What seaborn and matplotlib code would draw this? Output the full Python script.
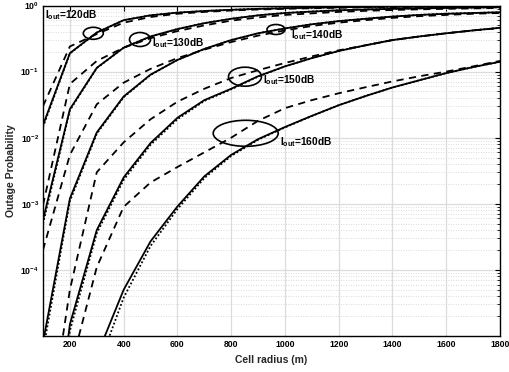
import matplotlib
matplotlib.use("Agg")
import matplotlib.pyplot as plt
import seaborn as sns
import numpy as np
from matplotlib.patches import Ellipse
from matplotlib.ticker import FixedLocator, NullFormatter

# ---------------- data ----------------
radius = [100, 200, 300, 400, 500, 600, 700, 800, 900, 1000,
          1100, 1200, 1300, 1400, 1500, 1600, 1700, 1800]

solid_120 = [0.0155, 0.19, 0.39, 0.60, 0.71, 0.78, 0.825, 0.86, 0.89, 0.91,
             0.925, 0.94, 0.95, 0.958, 0.965, 0.97, 0.975, 0.98]
dotted_120 = [0.0145, 0.188, 0.388, 0.60, 0.71, 0.78, 0.825, 0.86, 0.89, 0.91,
              0.925, 0.94, 0.95, 0.958, 0.965, 0.97, 0.975, 0.98]
dashed_120 = [0.03, 0.24, 0.37, 0.55, 0.67, 0.75, 0.80, 0.84, 0.87, 0.89,
              0.91, 0.925, 0.935, 0.945, 0.955, 0.96, 0.965, 0.97]

solid_130 = [5.7e-4, 0.027, 0.114, 0.23, 0.34, 0.44, 0.54, 0.63, 0.71, 0.77,
             0.81, 0.845, 0.87, 0.89, 0.905, 0.92, 0.93, 0.94]
dotted_130 = [5.0e-4, 0.026, 0.113, 0.23, 0.34, 0.44, 0.54, 0.63, 0.71, 0.77,
              0.81, 0.845, 0.87, 0.89, 0.905, 0.92, 0.93, 0.94]
dashed_130 = [9.6e-4, 0.065, 0.145, 0.23, 0.32, 0.41, 0.50, 0.59, 0.66, 0.72,
              0.76, 0.80, 0.83, 0.855, 0.875, 0.89, 0.905, 0.92]

solid_140 = [8e-6, 1.2e-3, 0.012, 0.042, 0.09, 0.15, 0.22, 0.30, 0.38, 0.45,
             0.52, 0.58, 0.63, 0.68, 0.72, 0.75, 0.77, 0.79]
dotted_140 = [6e-6, 1.1e-3, 0.0115, 0.041, 0.089, 0.15, 0.22, 0.30, 0.38, 0.45,
              0.52, 0.58, 0.63, 0.68, 0.72, 0.75, 0.77, 0.79]
dashed_140 = [2e-4, 5.5e-3, 0.032, 0.068, 0.11, 0.16, 0.215, 0.28, 0.35, 0.42,
              0.49, 0.55, 0.60, 0.65, 0.69, 0.72, 0.75, 0.77]

solid_150 = [1e-8, 1.5e-5, 4e-4, 2.5e-3, 8.3e-3, 0.02, 0.037, 0.055, 0.085, 0.12,
             0.16, 0.205, 0.25, 0.30, 0.34, 0.38, 0.42, 0.46]
dotted_150 = [8e-9, 1.2e-5, 3.6e-4, 2.3e-3, 7.8e-3, 0.019, 0.036, 0.054, 0.084, 0.12,
              0.16, 0.205, 0.25, 0.30, 0.34, 0.38, 0.42, 0.46]
dashed_150 = [1e-7, 5e-5, 3e-3, 8.5e-3, 0.019, 0.035, 0.055, 0.08, 0.105, 0.135,
              0.17, 0.21, 0.25, 0.30, 0.34, 0.38, 0.42, 0.455]

solid_160 = [1e-10, 1e-8, 5e-6, 5e-5, 2.7e-4, 9.1e-4, 2.6e-3, 5.5e-3, 9.5e-3, 0.0145,
             0.0214, 0.031, 0.0427, 0.0575, 0.074, 0.095, 0.117, 0.141]
dotted_160 = [8e-11, 8e-9, 3e-6, 3.8e-5, 2.3e-4, 8.3e-4, 2.45e-3, 5.3e-3, 9.3e-3, 0.0143,
              0.0213, 0.031, 0.0427, 0.0575, 0.074, 0.095, 0.117, 0.141]
dashed_160 = [1e-9, 3e-6, 1.1e-4, 9e-4, 2.1e-3, 3.6e-3, 6e-3, 0.01, 0.018, 0.028,
              0.037, 0.047, 0.058, 0.071, 0.085, 0.10, 0.12, 0.145]

groups = ["120", "130", "140", "150", "160"]
solids = [solid_120, solid_130, solid_140, solid_150, solid_160]
dotteds = [dotted_120, dotted_130, dotted_140, dotted_150, dotted_160]
dasheds = [dashed_120, dashed_130, dashed_140, dashed_150, dashed_160]

x_ticks = [200, 400, 600, 800, 1000, 1200, 1400, 1600, 1800]
y_ticks = [1e-4, 1e-3, 1e-2, 1e-1, 1e0]
y_tick_labels = [r"$\mathbf{10^{-4}}$", r"$\mathbf{10^{-3}}$", r"$\mathbf{10^{-2}}$",
                 r"$\mathbf{10^{-1}}$", r"$\mathbf{10^{0}}$"]

# ---------------- style ----------------
sns.set_theme(style="white")
plt.rcParams["font.family"] = ["Liberation Sans", "DejaVu Sans"]
plt.rcParams["font.weight"] = "bold"
plt.rcParams["mathtext.fontset"] = "custom"
plt.rcParams["mathtext.rm"] = "Liberation Sans:bold"
plt.rcParams["mathtext.bf"] = "Liberation Sans:bold"
plt.rcParams["mathtext.it"] = "Liberation Sans:bold"

W, H = 510, 372
fig = plt.figure(figsize=(W / 100, H / 100), dpi=100)
ax_l, ax_r, ax_t, ax_b = 43, 500, 5.5, 336
ax = fig.add_axes([ax_l / W, (H - ax_b) / H, (ax_r - ax_l) / W, (ax_b - ax_t) / H])
ax.set_yscale("log")

for s, d, dd in zip(solids, dotteds, dasheds):
    sns.lineplot(x=radius, y=s, ax=ax, color="black", linewidth=1.3,
                 linestyle="-", estimator=None, legend=False)
    sns.lineplot(x=radius, y=d, ax=ax, color="black", linewidth=1.3,
                 linestyle=(0, (1, 1.2)), estimator=None, legend=False)
    sns.lineplot(x=radius, y=dd, ax=ax, color="black", linewidth=1.3,
                 linestyle=(0, (4, 3)), estimator=None, legend=False)

ax.set_xlim(100, 1800)
ax.set_ylim(1e-5, 1)
ax.xaxis.set_major_locator(FixedLocator(x_ticks))
ax.set_xticklabels([str(v) for v in x_ticks])
ax.yaxis.set_major_locator(FixedLocator(y_ticks))
ax.set_yticklabels(y_tick_labels)
minor = [m * 10.0 ** e for e in range(-5, 0) for m in range(2, 10)]
ax.yaxis.set_minor_locator(FixedLocator(minor))
ax.yaxis.set_minor_formatter(NullFormatter())

ax.grid(True, which="major", color="#dcdcdc", linewidth=0.9, linestyle="-")
ax.grid(True, which="minor", axis="y", color="#cfcfcf", linewidth=0.6,
        linestyle=(0, (1, 2)))
ax.set_axisbelow(True)

ax.tick_params(which="both", direction="in", top=True, right=True,
               labelsize=6.2, pad=3, colors="black")
ax.tick_params(which="major", length=3.5, width=0.8)
ax.tick_params(which="minor", length=2, width=0.6)
for lab in ax.get_xticklabels():
    lab.set_fontweight("bold")
for sp in ax.spines.values():
    sp.set_color("black")
    sp.set_linewidth(1.0)

ax.set_xlabel("Cell radius (m)", fontsize=7.5, fontweight="bold", labelpad=4.5)
ax.set_ylabel("Outage Probability", fontsize=7.5, fontweight="bold", labelpad=3)

# ---------------- annotations (pixel positions -> axes fraction) ----------------
def fx(px):
    return (px - ax_l) / (ax_r - ax_l)

def fy(py):
    return (ax_b - py) / (ax_b - ax_t)

ellipses = {  # center px, width px, height px
    "120": ((93.3, 33.3), 20, 12),
    "130": ((140, 39.5), 21, 14),
    "140": ((276, 29.5), 18, 10),
    "150": ((245, 76.7), 33, 19),
    "160": ((245.7, 133.3), 65, 26),
}
labels = {  # left x px, baseline y px
    "120": (45, 18.5),
    "130": (152, 46.5),
    "140": (291, 38),
    "150": (263, 83),
    "160": (280, 145.5),
}
for g in groups:
    (cx, cy), w, h = ellipses[g]
    ax.add_patch(Ellipse((fx(cx), fy(cy)), w / (ax_r - ax_l), h / (ax_b - ax_t),
                         transform=ax.transAxes, fill=False, edgecolor="black",
                         linewidth=1.2, clip_on=False))
    tx, ty = labels[g]
    ax.text(fx(tx), fy(ty), r"I$_{\mathbf{out}}$=" + g + "dB", transform=ax.transAxes,
            fontsize=7.3, fontweight="bold", ha="left", va="baseline", color="black")

fig.savefig("out.png", dpi=100, facecolor="white")
